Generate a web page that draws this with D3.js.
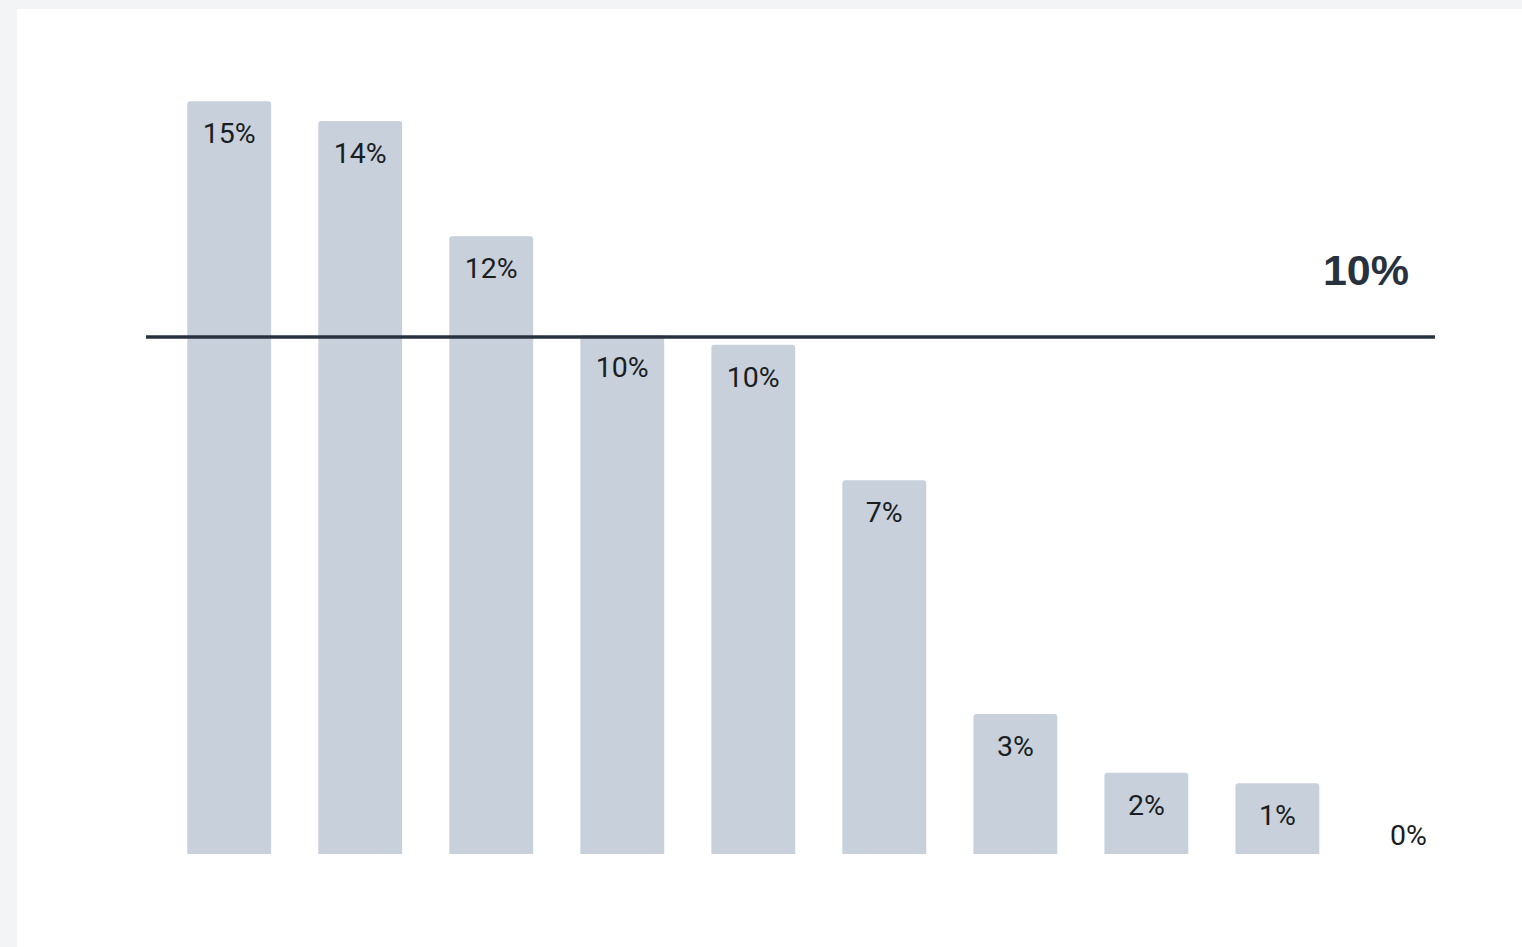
<!DOCTYPE html>
<html lang="en">
<head>
  <meta charset="UTF-8">
  <title>Chart</title>
  <style>
    body { margin: 0; background: #f3f4f6; }
    svg { display: block; }
  </style>
</head>
<body>
  <svg></svg>
  <script src="https://cdn.jsdelivr.net/npm/d3@7"></script>
  <script>
    // bar values (percent); labels are rounded
    var categories = ["a", "b", "c", "d", "e", "f", "g", "h", "i", "j"]
    var values = [14.56, 14.18, 11.95, 10.04, 9.85, 7.23, 2.71, 1.57, 1.37, 0]
    var targetValue = 10
    var targetLabel = "10%"

    var width = 1522
    var height = 947
    var baseline = 854

    var svg = d3.select("svg")
      .attr("width", width)
      .attr("height", height)

    // white card
    svg.append("rect")
      .attr("x", 17).attr("y", 9)
      .attr("width", width - 17).attr("height", height - 9)
      .attr("fill", "#ffffff")

    var x = d3.scaleBand()
      .domain(categories)
      .range([166.3, 1471.3])
      .paddingInner(0.36)
      .paddingOuter(0.16)

    var y = d3.scaleLinear()
      .domain([0, 10])
      .range([baseline, 337])

    var bw = x.bandwidth()
    var r = 3

    function barPath(d, i) {
      var x0 = x(categories[i]), x1 = x0 + bw
      var y0 = y(d)
      if (baseline - y0 < r) return ""
      return `M${x0},${baseline}V${y0 + r}Q${x0},${y0} ${x0 + r},${y0}` +
             `H${x1 - r}Q${x1},${y0} ${x1},${y0 + r}V${baseline}Z`
    }

    svg.append("g").selectAll("path")
      .data(values)
      .join("path")
      .attr("d", barPath)
      .attr("fill", "#c7d0db")

    svg.append("g").selectAll("text")
      .data(values)
      .join("text")
      .attr("x", (d, i) => x(categories[i]) + bw / 2)
      .attr("y", d => Math.min(y(d) + 42, baseline - 9))
      .attr("text-anchor", "middle")
      .attr("font-family", "Roboto, sans-serif")
      .attr("font-size", 28.5)
      .attr("fill", "#1a1d21")
      .text(d => Math.round(d) + "%")

    // reference line
    svg.append("line")
      .attr("x1", 146).attr("x2", 1435)
      .attr("y1", y(targetValue)).attr("y2", y(targetValue))
      .attr("stroke", "#28323e")
      .attr("stroke-width", 3.5)

    svg.append("text")
      .attr("x", 1409)
      .attr("y", 285)
      .attr("text-anchor", "end")
      .attr("font-family", "'Liberation Sans', Arial, sans-serif")
      .attr("font-weight", "bold")
      .attr("font-size", 43)
      .attr("fill", "#28323e")
      .text(targetLabel)
  </script>
</body>
</html>
